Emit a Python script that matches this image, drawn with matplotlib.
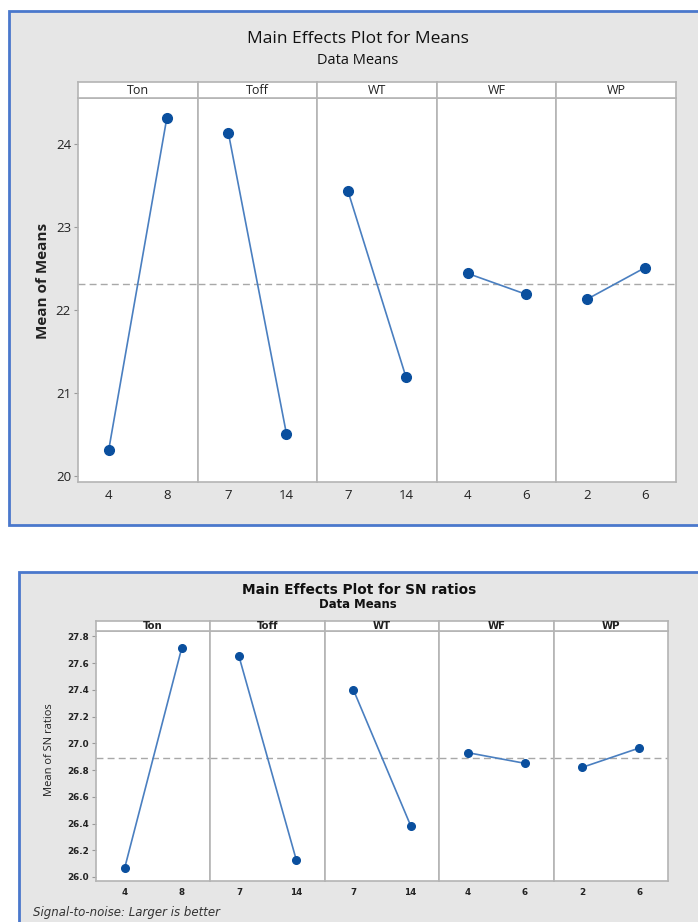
import matplotlib.pyplot as plt
from matplotlib.patches import Rectangle

# factors and their two levels
factors = ['Ton', 'Toff', 'WT', 'WF', 'WP']
levels = [['4', '8'], ['7', '14'], ['7', '14'], ['4', '6'], ['2', '6']]

# main effects for means
means = [[20.32, 24.31], [24.13, 20.51], [23.43, 21.19], [22.44, 22.19], [22.13, 22.51]]
means_ticks = [20, 21, 22, 23, 24]

# main effects for SN ratios
sn = [[26.065, 27.715], [27.65, 26.13], [27.40, 26.385], [26.93, 26.85], [26.82, 26.965]]
sn_ticks = [26.0, 26.2, 26.4, 26.6, 26.8, 27.0, 27.2, 27.4, 27.6, 27.8]

W, H = 698, 922
plt.rcParams['font.family'] = ['Open Sans', 'DejaVu Sans']
WIDE = ['DejaVu Sans']  # lower chart looks horizontally stretched

fig = plt.figure(figsize=(W / 100, H / 100), dpi=100)
fig.patch.set_facecolor('white')


def box(x0, y0, x1, y1):
    # pixel coords (top-left origin) -> figure fraction
    return [x0 / W, 1 - y1 / H, (x1 - x0) / W, (y1 - y0) / H]


def panel_bg(x0, y0, x1, y1):
    l, b, w, h = box(x0, y0, x1, y1)
    fig.patches.append(Rectangle((l, b), w, h, transform=fig.transFigure,
                                 facecolor='#e6e6e6', edgecolor='#4a78cc',
                                 linewidth=2, zorder=-5))


def effects(data, ticks, ylim, left, top, strip_top, bottom, pw, xmargin,
            txt, msize):
    grand = sum(sum(d) for d in data) / (2 * len(data))
    for i, (name, lv, vals) in enumerate(zip(factors, levels, data)):
        x0 = left + i * pw
        ax = fig.add_axes(box(x0, top, x0 + pw, bottom))
        ax.plot([0, 1], vals, color='#4a7fc0', lw=1.2, zorder=3)
        ax.plot([0, 1], vals, 'o', color='#0a4f9e', ms=msize, zorder=4)
        ax.axhline(grand, color='#a8a8a8', lw=1, ls=(0, (5, 3)), zorder=2)
        ax.set_xlim(-xmargin, 1 + xmargin)
        ax.set_ylim(*ylim)
        ax.set_xticks([0, 1])
        ax.set_xticklabels(lv, color='#222222', **txt['tick'])
        ax.tick_params(axis='x', length=0, pad=5)
        for s in ax.spines.values():
            s.set_color('#b4b4b4')
            s.set_linewidth(1.2)
        if i == 0:
            ax.set_yticks(ticks)
            ax.set_yticklabels([str(t) for t in ticks], color='#222222', **txt['tick'])
            ax.tick_params(axis='y', length=3, color='#999999', pad=2)
        else:
            ax.set_yticks([])
        sx = fig.add_axes(box(x0, strip_top, x0 + pw, top))
        sx.set_xticks([])
        sx.set_yticks([])
        for s in sx.spines.values():
            s.set_color('#b4b4b4')
            s.set_linewidth(1.2)
        sx.text(0.5, 0.45, name, ha='center', va='center', color='#222222',
                transform=sx.transAxes, **txt['strip'])


# ---- top chart: means
panel_bg(9, 11, 704, 525)
fig.text(358 / W, 1 - 39 / H, 'Main Effects Plot for Means', ha='center', va='center',
         fontsize=12.5, color='#111111')
fig.text(358 / W, 1 - 60 / H, 'Data Means', ha='center', va='center',
         fontsize=10.5, color='#111111')
fig.text(43 / W, 1 - 281 / H, 'Mean of Means', ha='center', va='center',
         rotation=90, fontsize=11, fontweight='bold', color='#222222')
top_txt = {'tick': {'fontsize': 9.5}, 'strip': {'fontsize': 9}}
effects(means, means_ticks, (19.93, 24.55), 78, 98, 82, 482, 119.6, 0.53,
        top_txt, 7)

# ---- bottom chart: SN ratios
panel_bg(19, 572, 704, 930)
fig.text(359 / W, 1 - 590 / H, 'Main Effects Plot for SN ratios', ha='center', va='center',
         fontsize=9.9, fontweight='bold', family=WIDE, color='#111111')
fig.text(358 / W, 1 - 605 / H, 'Data Means', ha='center', va='center',
         fontsize=8.4, fontweight='bold', family=WIDE, color='#111111')
fig.text(50 / W, 1 - 750 / H, 'Mean of SN ratios', ha='center', va='center',
         rotation=90, fontsize=8, color='#222222')
bot_txt = {'tick': {'fontsize': 6.3, 'fontweight': 'bold', 'family': WIDE},
           'strip': {'fontsize': 7.3, 'fontweight': 'bold', 'family': WIDE}}
effects(sn, sn_ticks, (25.97, 27.84), 96, 631, 620.7, 881, 114.4, 0.5,
        bot_txt, 5.5)
fig.text(33 / W, 1 - 912 / H, 'Signal-to-noise: Larger is better', ha='left', va='center',
         fontsize=8.5, style='italic', family=WIDE, color='#333333')

fig.savefig('out.png', dpi=100, facecolor='white')
